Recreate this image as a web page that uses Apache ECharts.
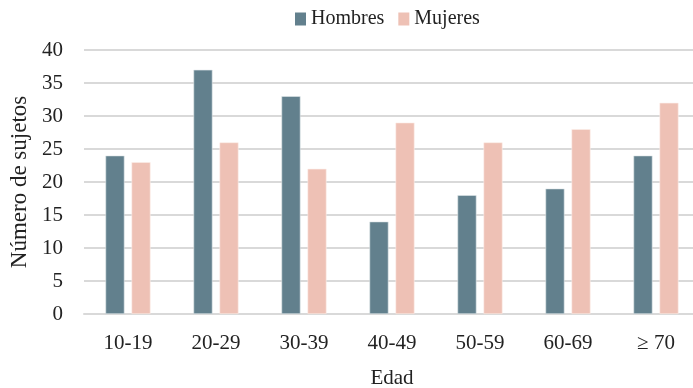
<!DOCTYPE html>
<html>
<head>
<meta charset="utf-8">
<script src="https://cdn.jsdelivr.net/npm/echarts@6/dist/echarts.min.js"></script>
<style>
  html, body { margin: 0; padding: 0; background: #fff; }
  #chart { width: 693px; height: 388px; }
</style>
</head>
<body>
<div id="chart"></div>
<script>
// Age groups and subject counts per sex
const categories = ['10-19', '20-29', '30-39', '40-49', '50-59', '60-69', '≥ 70'];
const hombres = [24, 37, 33, 14, 18, 19, 24];
const mujeres = [23, 26, 22, 29, 26, 28, 32];

const FONT = '"Liberation Serif", "DejaVu Serif", serif';
const TEXT = '#222';

const chart = echarts.init(document.getElementById('chart'), null, { renderer: 'canvas' });
chart.setOption({
  animation: false,
  textStyle: { fontFamily: FONT },
  legend: {
    top: 4,
    left: 290,
    itemWidth: 11,
    itemHeight: 13,
    itemGap: 14,
    icon: 'rect',
    itemStyle: { borderWidth: 0 },
    textStyle: { fontFamily: FONT, fontSize: 20, color: TEXT },
    data: ['Hombres', 'Mujeres']
  },
  grid: { left: 84, top: 50, width: 616, height: 264, outerBoundsMode: 'none', containLabel: false },
  xAxis: {
    type: 'category',
    data: categories,
    name: 'Edad',
    nameLocation: 'middle',
    nameGap: 54,
    nameTextStyle: { fontFamily: FONT, fontSize: 21, color: TEXT },
    axisTick: { show: false },
    axisLine: { lineStyle: { color: '#d9d9d9', width: 2 } },
    axisLabel: { fontFamily: FONT, fontSize: 21, color: TEXT, margin: 19 }
  },
  yAxis: {
    type: 'value',
    min: 0,
    max: 40,
    interval: 5,
    name: 'Número de sujetos',
    nameLocation: 'middle',
    nameGap: 53,
    nameTextStyle: { fontFamily: FONT, fontSize: 23, color: TEXT },
    axisLine: { show: false },
    axisTick: { show: false },
    axisLabel: { fontFamily: FONT, fontSize: 21, color: TEXT, margin: 21 },
    splitLine: { lineStyle: { color: '#d9d9d9', width: 2 } }
  },
  series: [
    {
      name: 'Hombres',
      type: 'bar',
      data: hombres,
      barWidth: 19,
      barGap: '37%',
      itemStyle: { color: '#62808d', borderColor: '#dfe6e9', borderWidth: 0.6 }
    },
    {
      name: 'Mujeres',
      type: 'bar',
      data: mujeres,
      barWidth: 19,
      itemStyle: { color: '#eec1b5', borderColor: '#fbeee9', borderWidth: 0.6 }
    }
  ]
});
</script>
</body>
</html>
